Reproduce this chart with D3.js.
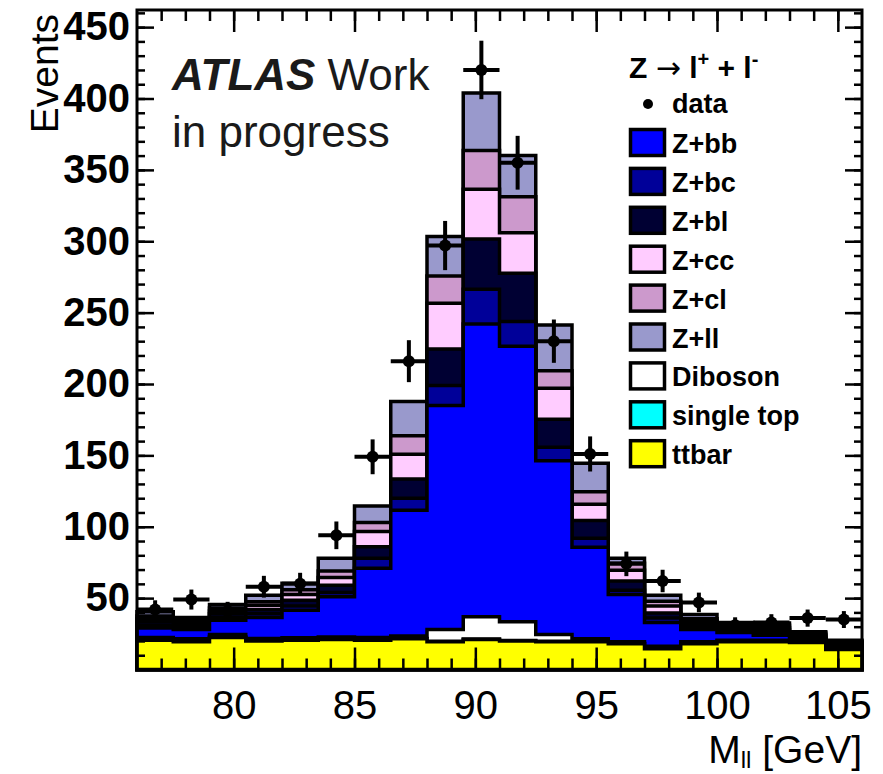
<!DOCTYPE html>
<html>
<head>
<meta charset="utf-8">
<script src="https://cdn.jsdelivr.net/npm/d3@7"></script>
<style>
  body { margin: 0; background: #fff; }
  svg text { font-family: "Liberation Sans", Arial, Helvetica, sans-serif; }
</style>
</head>
<body>
<div id="chart"></div>
<script>
// bins of M_ll [GeV], 1.5 GeV wide
const massBins = [76.75, 78.25, 79.75, 81.25, 82.75, 84.25, 85.75, 87.25, 88.75, 90.25,
                  91.75, 93.25, 94.75, 96.25, 97.75, 99.25, 100.75, 102.25, 103.75, 105.25];
const binWidth = 1.5;

// observed events
const dataCounts = [42, 49, 41, 58, 60, 94, 149, 216, 297, 420, 355, 230, 151, 74, 62, 47, 31, 33, 36, 35];

// MC samples (per bin, not cumulative), stacked bottom -> top
const ttbar     = [20.5, 19.5, 22.5, 20, 20.5, 21, 20.5, 21.5, 19.5, 21, 20, 19.5, 19.5, 18, 14.5, 18, 19.5, 19.5, 19, 14];
const singleTop = [0.3, 0.3, 0.3, 0.3, 0.3, 0.3, 0.3, 0.3, 0.3, 0.3, 0.3, 0.3, 0.3, 0.3, 0.3, 0.3, 0.3, 0.3, 0.3, 0.3];
const diboson   = [1.7, 1.7, 1.7, 1.5, 1.5, 1.5, 1.7, 1.7, 8.2, 15.7, 13.2, 4.7, 1.7, 1.2, 1.4, 1.2, 0.7, 0.7, 0.7, 0.7];
const zbb       = [6.5, 6.5, 10, 14.7, 19.2, 28.2, 48.5, 88, 157, 205, 193, 121.8, 64.1, 33, 16.8, 8.5, 5.5, 3.5, 1.5, 2];
const zbc       = [2, 1.5, 2, 2.5, 3, 3, 7, 8.5, 14, 24.4, 17.2, 9.4, 6.4, 3, 3, 2, 1.5, 2, 1, 0.8];
const zbl       = [2.5, 2, 2.5, 3, 4, 5, 8, 13.5, 25.6, 35.1, 33.9, 19.6, 12.3, 6.5, 3.5, 2, 1.5, 2, 1, 0.7];
const zcc       = [2, 1.5, 2, 3, 4, 5.5, 10.6, 17.3, 32, 35, 28.4, 21.7, 11.4, 7.5, 5, 2, 1.5, 1.5, 1, 0.7];
const zcl       = [2, 1.5, 2, 2.5, 3.3, 4.5, 6.4, 13, 19.1, 27.1, 25.2, 12.2, 8.9, 5, 3.3, 1.5, 1, 1.5, 1, 0.6];
const zll       = [3, 2, 2.5, 4.5, 4.7, 9, 11.6, 23.9, 27.6, 40.2, 28.8, 32.2, 19.9, 3.5, 4.2, 3, 1.5, 1.5, 1, 0.7];

const stackKeys = ["ttbar", "singleTop", "diboson", "zbb", "zbc", "zbl", "zcc", "zcl", "zll"];
const sampleValues = { ttbar, singleTop, diboson, zbb, zbc, zbl, zcc, zcl, zll };

// legend, top to bottom
const legendKeys   = ["zbb", "zbc", "zbl", "zcc", "zcl", "zll", "diboson", "singleTop", "ttbar"];
const legendLabels = ["Z+bb", "Z+bc", "Z+bl", "Z+cc", "Z+cl", "Z+ll", "Diboson", "single top", "ttbar"];

const xTickLabels = [80, 85, 90, 95, 100, 105];
const yTickLabels = [50, 100, 150, 200, 250, 300, 350, 400, 450];

const COLORS = {
    ttbar: "#ffff00", singleTop: "#00ffff", diboson: "#ffffff",
    zbb: "#0000ff", zbc: "#000099", zbl: "#000033",
    zcc: "#ffccff", zcl: "#cc99cc", zll: "#9999cc"
};

const width = 883, height = 774;
const margin = { top: 10, right: 21, bottom: 104.5, left: 137 };

const x = d3.scaleLinear().domain([76, 106]).range([margin.left, width - margin.right]);
const y = d3.scaleLinear().domain([0, 462]).range([height - margin.bottom, margin.top]);

const svg = d3.select("#chart").append("svg")
    .attr("width", width)
    .attr("height", height);

// stacked histograms, ROOT style: every cumulative histogram is filled from 0, biggest first
const rows = massBins.map((m, i) => {
    const r = { mass: m };
    stackKeys.forEach(k => r[k] = sampleValues[k][i]);
    return r;
});
const layers = d3.stack().keys(stackKeys)(rows);

function stepPath(tops) {
    const p = d3.path();
    const lo = i => x(massBins[i] - binWidth / 2);
    const hi = i => x(massBins[i] + binWidth / 2);
    p.moveTo(lo(0), y(0));
    tops.forEach((v, i) => {
        p.lineTo(lo(i), y(v));
        p.lineTo(hi(i), y(v));
    });
    p.lineTo(hi(tops.length - 1), y(0));
    p.closePath();
    return p.toString();
}

svg.append("g").selectAll("path")
    .data(layers.slice().reverse())
    .enter()
    .append("path")
    .attr("d", d => stepPath(d.map(s => s[1])))
    .attr("fill", d => COLORS[d.key])
    .attr("stroke", "#000")
    .attr("stroke-width", 3.5)
    .attr("stroke-linejoin", "miter");

// data points with errors
const pts = svg.append("g");
massBins.forEach((m, i) => {
    const n = dataCounts[i];
    const err = Math.sqrt(n);
    pts.append("line")
        .attr("x1", x(m - binWidth / 2)).attr("x2", x(m + binWidth / 2))
        .attr("y1", y(n)).attr("y2", y(n))
        .attr("stroke", "#000").attr("stroke-width", 4);
    pts.append("line")
        .attr("x1", x(m)).attr("x2", x(m))
        .attr("y1", y(n - err)).attr("y2", y(n + err))
        .attr("stroke", "#000").attr("stroke-width", 4);
    pts.append("circle")
        .attr("cx", x(m)).attr("cy", y(n)).attr("r", 6)
        .attr("fill", "#000");
});

// axes, ticks pointing inwards on all four sides
const xMinor = d3.range(77, 106, 1);
const yMinor = d3.range(10, 461, 10);

function styleAxis(g) {
    g.select(".domain").remove();
    g.selectAll(".tick line").attr("stroke", "#000").attr("stroke-width", 2.5);
}

svg.append("g")
    .attr("transform", `translate(${margin.left},0)`)
    .call(d3.axisLeft(y).tickValues(yMinor).tickSize(-8).tickFormat(""))
    .call(styleAxis);
svg.append("g")
    .attr("transform", `translate(${width - margin.right},0)`)
    .call(d3.axisRight(y).tickValues(yMinor).tickSize(-8).tickFormat(""))
    .call(styleAxis);
svg.append("g")
    .attr("transform", `translate(${width - margin.right},0)`)
    .call(d3.axisRight(y).tickValues(yTickLabels).tickSize(-17).tickFormat(""))
    .call(styleAxis);
svg.append("g")
    .attr("transform", `translate(0,${height - margin.bottom})`)
    .call(d3.axisBottom(x).tickValues(xMinor).tickSize(-11).tickFormat(""))
    .call(styleAxis);
svg.append("g")
    .attr("transform", `translate(0,${margin.top})`)
    .call(d3.axisTop(x).tickValues(xMinor).tickSize(-11).tickFormat(""))
    .call(styleAxis);
svg.append("g")
    .attr("transform", `translate(0,${margin.top})`)
    .call(d3.axisTop(x).tickValues(xTickLabels).tickSize(-22).tickFormat(""))
    .call(styleAxis);

const yAxis = svg.append("g")
    .attr("transform", `translate(${margin.left},0)`)
    .call(d3.axisLeft(y).tickValues(yTickLabels).tickSize(-17).tickPadding(7))
    .call(styleAxis);
yAxis.selectAll("text")
    .attr("fill", "#000")
    .style("font-size", "40px")
    .style("font-weight", "bold")
    .style("font-family", '"Liberation Sans", Arial, sans-serif');

const xAxis = svg.append("g")
    .attr("transform", `translate(0,${height - margin.bottom})`)
    .call(d3.axisBottom(x).tickValues(xTickLabels).tickSize(-22).tickPadding(21))
    .call(styleAxis);
xAxis.selectAll("text")
    .attr("fill", "#000")
    .style("font-size", "40px")
    .style("font-family", '"Liberation Sans", Arial, sans-serif');

svg.append("rect")
    .attr("x", margin.left).attr("y", margin.top)
    .attr("width", width - margin.left - margin.right)
    .attr("height", height - margin.top - margin.bottom)
    .attr("fill", "none")
    .attr("stroke", "#000")
    .attr("stroke-width", 3);

// axis titles
svg.append("text")
    .attr("transform", `translate(58,14) rotate(-90)`)
    .attr("text-anchor", "end")
    .style("font-size", "39px")
    .text("Events");

const xTitle = svg.append("text")
    .attr("x", width - margin.right)
    .attr("y", 763)
    .attr("text-anchor", "end")
    .style("font-size", "39px");
xTitle.append("tspan").text("M");
xTitle.append("tspan").attr("dy", 5).style("font-size", "24px").text("ll");
xTitle.append("tspan").attr("dy", -5).text(" [GeV]");

// ATLAS label
const atlas = svg.append("text")
    .attr("x", 172).attr("y", 90)
    .attr("fill", "#1a1a1a")
    .style("font-size", "44px");
atlas.append("tspan").style("font-weight", "bold").style("font-style", "italic").text("ATLAS");
atlas.append("tspan").text(" Work");
svg.append("text")
    .attr("x", 172).attr("y", 147)
    .attr("fill", "#1a1a1a")
    .style("font-size", "44px")
    .text("in progress");

// legend
const legend = svg.append("g").attr("transform", "translate(629,0)");
const header = legend.append("text")
    .attr("x", 0).attr("y", 78)
    .style("font-size", "30px")
    .style("font-weight", "bold");
header.append("tspan").text("Z ");
header.append("tspan").style("font-family", '"DejaVu Sans", sans-serif').style("font-weight", "normal").text("\u2192");
header.append("tspan").text(" l");
header.append("tspan").attr("dy", -12).style("font-size", "20px").text("+");
header.append("tspan").attr("dy", 12).text(" + l");
header.append("tspan").attr("dy", -12).style("font-size", "20px").text("-");

legend.append("circle").attr("cx", 19).attr("cy", 104).attr("r", 5).attr("fill", "#000");
legend.append("text")
    .attr("x", 43).attr("y", 113)
    .style("font-size", "27px").style("font-weight", "bold")
    .text("data");

const rowH = 38.9;
const items = legend.selectAll("g.item")
    .data(legendKeys)
    .enter()
    .append("g")
    .attr("class", "item")
    .attr("transform", (d, i) => `translate(0,${128 + i * rowH})`);
items.append("rect")
    .attr("x", 1.5).attr("y", 1.5)
    .attr("width", 34).attr("height", 26)
    .attr("fill", d => COLORS[d])
    .attr("stroke", "#000")
    .attr("stroke-width", 3.5);
items.append("text")
    .attr("x", 43).attr("y", 25)
    .style("font-size", "27px").style("font-weight", "bold")
    .text((d, i) => legendLabels[i]);
</script>
</body>
</html>
